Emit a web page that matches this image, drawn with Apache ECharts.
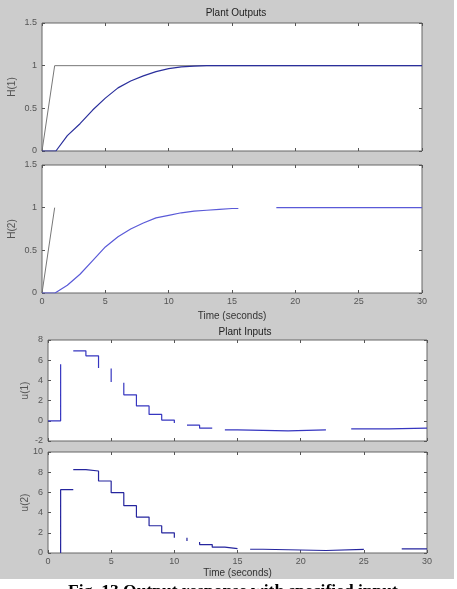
<!DOCTYPE html>
<html>
<head>
<meta charset="utf-8">
<script src="https://cdn.jsdelivr.net/npm/echarts@6/dist/echarts.min.js"></script>
<style>
  html, body { margin: 0; padding: 0; background: #fff; }
  #wrap { position: relative; width: 457px; height: 589px; overflow: hidden; }
  #bg { position: absolute; left: 0; top: 0; width: 454px; height: 579px; background: #cccccc; }
  #chart { position: absolute; left: 0; top: 0; width: 457px; height: 589px; }
</style>
</head>
<body>
<div id="wrap">
  <div id="bg"></div>
  <div id="chart"></div>
</div>
<script>
// Plant outputs: time (s) and response values
const h1Ref = [[0, 0], [1, 1], [30, 1]]
const h1 = [[0, 0], [1.1, 0], [2, 0.18], [3, 0.32], [4, 0.48], [5, 0.62], [6, 0.74], [7, 0.82],
  [8, 0.88], [9, 0.93], [10, 0.965], [11, 0.985], [12, 0.995], [13, 1], [30, 1]]
const h2Ref = [[0, 0], [1, 1]]
const h2 = [[0, 0], [1.03, 0], [2, 0.09], [3, 0.22], [4, 0.38], [5, 0.54], [6, 0.66], [7, 0.75],
  [8, 0.82], [9, 0.88], [10, 0.91], [11, 0.94], [12, 0.96], [13, 0.97], [14, 0.98], [15, 0.99],
  [15.5, 0.99], null, [18.5, 1], [30, 1]]

// Plant inputs: stair points, null = piece missing in the plot
const u1 = [[0, 0], [1, 0], [1, 5.6], null,
  [2, 6.93], [3, 6.93], [3, 6.43], [4, 6.43], [4, 5.23], null,
  [5, 5.17], [5, 3.83], null,
  [6, 3.77], [6, 2.57], [7, 2.57], [7, 1.47], [8, 1.47], [8, 0.63], [9, 0.63], [9, 0.07], [10, 0.07], [10, -0.23], null,
  [11, -0.43], [12, -0.43], [12, -0.73], [13, -0.73], null,
  [14, -0.9], [15, -0.9], [15, -1.0], [19, -1.0], [19, -0.9], [22, -0.9], null,
  [24, -0.8], [27, -0.8], [27, -0.73], [30, -0.73]]
const u2 = [[1, 0], [1, 6.27], [2, 6.27], null,
  [2, 8.25], [3, 8.25], [3, 8.12], [4, 8.12], [4, 7.13], [5, 7.13], [5, 5.97], [6, 5.97], [6, 4.69],
  [7, 4.69], [7, 3.56], [8, 3.56], [8, 2.7], [9, 2.7], [9, 2.0], [10, 2.0], [10, 1.52], null,
  [11, 1.5], [11, 1.2], null,
  [12, 1.1], [12, 0.83], [13, 0.83], [13, 0.58], [14, 0.58], [14, 0.43], [15, 0.43], null,
  [16, 0.37], [17, 0.37], [17, 0.25], [22, 0.25], [22, 0.35], [25, 0.35], null,
  [28, 0.4], [30, 0.4]]

const panels = [
  { box: { left: 42, top: 23, width: 380, height: 128 }, y: [0, 1.5, 0.5], name: 'H(1)', gap: 25, xLabels: false, xName: '' },
  { box: { left: 42, top: 165, width: 380, height: 128 }, y: [0, 1.5, 0.5], name: 'H(2)', gap: 25, xLabels: true, xName: 'Time (seconds)', xGap: 18 },
  { box: { left: 48, top: 340, width: 379, height: 101 }, y: [-2, 8, 2], name: 'u(1)', gap: 18, xLabels: false, xName: '' },
  { box: { left: 48, top: 452, width: 379, height: 101 }, y: [0, 10, 2], name: 'u(2)', gap: 18, xLabels: true, xName: 'Time (seconds)', xGap: 15 }
]

const font = 'Liberation Sans, Arial, sans-serif'
const tick = { show: true, inside: true, length: 3, lineStyle: { color: '#555' } }
const label = { color: '#555', fontSize: 9, fontFamily: font }
const noLine = { show: false, onZero: false }

const grid = []
const xAxis = []
const yAxis = []
panels.forEach((p, i) => {
  grid.push(Object.assign({
    show: true, backgroundColor: '#fff', borderColor: '#666', borderWidth: 1,
    containLabel: false, outerBoundsMode: 'none'
  }, p.box))
  // bottom + top x axis
  xAxis.push({
    type: 'value', gridIndex: i, min: 0, max: 30, interval: 5, position: 'bottom',
    axisLine: noLine, splitLine: { show: false }, axisTick: tick,
    axisLabel: Object.assign({ show: p.xLabels, margin: 4 }, label),
    name: p.xName, nameLocation: 'middle', nameGap: p.xGap || 0, nameMoveOverlap: false,
    nameTextStyle: { color: '#333', fontSize: 10, fontFamily: font }
  })
  xAxis.push({
    type: 'value', gridIndex: i, min: 0, max: 30, interval: 5, position: 'top',
    axisLine: noLine, splitLine: { show: false }, axisTick: tick, axisLabel: { show: false }
  })
  // left + right y axis
  yAxis.push({
    type: 'value', gridIndex: i, min: p.y[0], max: p.y[1], interval: p.y[2], position: 'left',
    axisLine: noLine, splitLine: { show: false }, axisTick: tick,
    axisLabel: Object.assign({ margin: 5 }, label),
    name: p.name, nameLocation: 'middle', nameRotate: 90, nameGap: p.gap, nameMoveOverlap: false,
    nameTextStyle: { color: '#555', fontSize: 10, fontFamily: font }
  })
  yAxis.push({
    type: 'value', gridIndex: i, min: p.y[0], max: p.y[1], interval: p.y[2], position: 'right',
    axisLine: noLine, splitLine: { show: false }, axisTick: tick, axisLabel: { show: false }
  })
})

function line(data, i, color, width) {
  return {
    type: 'line', data: data, xAxisIndex: i * 2, yAxisIndex: i * 2,
    showSymbol: false, symbol: 'none', connectNulls: false, silent: true,
    lineStyle: { color: color, width: width }
  }
}

const myChart = echarts.init(document.getElementById('chart'))
myChart.setOption({
  animation: false,
  backgroundColor: 'transparent',
  title: [
    { text: 'Plant Outputs', left: 231, top: 3, textAlign: 'center',
      textStyle: { fontSize: 10, fontWeight: 'normal', color: '#222', fontFamily: font } },
    { text: 'Plant Inputs', left: 240, top: 322, textAlign: 'center',
      textStyle: { fontSize: 10, fontWeight: 'normal', color: '#222', fontFamily: font } },
    { text: 'Fig. 13 Output response with specified input', left: 228, top: 577, textAlign: 'center',
      textStyle: { fontSize: 17.5, fontWeight: 'bold', color: '#000', fontFamily: 'Liberation Serif, serif' } }
  ],
  grid: grid,
  xAxis: xAxis,
  yAxis: yAxis,
  series: [
    line(h1Ref, 0, '#777', 1),
    line(h1, 0, '#2a2f9c', 1.2),
    line(h2Ref, 1, '#777', 1),
    line(h2, 1, '#5a5ad8', 1.2),
    line(u1, 2, '#3636c0', 1.2),
    line(u2, 3, '#25259e', 1.2)
  ]
})
</script>
</body>
</html>
